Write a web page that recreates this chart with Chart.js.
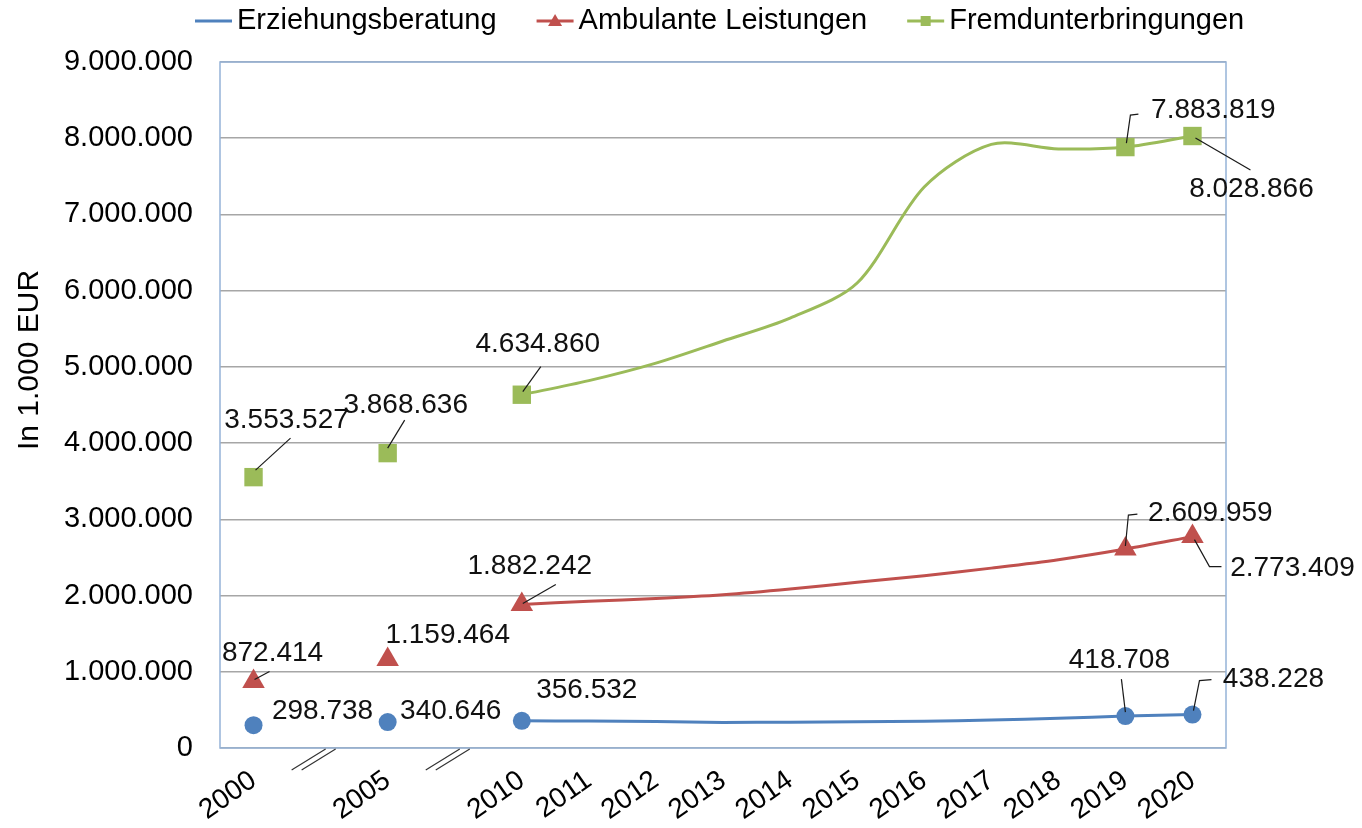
<!DOCTYPE html>
<html>
<head>
<meta charset="utf-8">
<script src="https://cdn.jsdelivr.net/npm/chart.js@4.4.1/dist/chart.umd.min.js"></script>
<style>
    html, body { margin: 0; padding: 0; background: #fff; }
    #wrap { width: 1362px; height: 828px; }
</style>
</head>
<body>
<div id="wrap"><canvas id="chart"></canvas></div>
<script>
// Categories: the empty slots stand for the axis breaks between 2000/2005 and 2005/2010.
const YEARS = ['2000', '', '2005', '', '2010', '2011', '2012', '2013', '2014', '2015', '2016', '2017', '2018', '2019', '2020'];

const ERZIEHUNG = [298738, null, 340646, null, 356532, 354000, 349000, 336000, 339000, 344000, 350000, 366000, 390000, 418708, 438228];
const AMBULANT = [872414, null, 1159464, null, 1882242, 1925000, 1960000, 2010000, 2085000, 2175000, 2260000, 2360000, 2470000, 2609959, 2773409];
const FREMD = [3553527, null, 3868636, null, 4634860, 4820000, 5050000, 5340000, 5640000, 6100000, 7360000, 7920000, 7860000, 7883819, 8028866];

const Y_MIN = 0;
const Y_MAX = 9000000;
const Y_STEP = 1000000;
const Y_TITLE = 'In 1.000 EUR';

// Indices that carry a marker and a value label.
const MARKED = [0, 2, 4, 13, 14];
const BREAKS = [1, 3];

const BLUE = '#4F81BD';
const RED = '#C0504D';
const GREEN = '#9BBB59';
const FRAME = '#95B3D7';
const GRID = '#A6A6A6';
const FONT = 'Liberation Sans, Arial, sans-serif';

const fmt = (v) => String(v).replace(/\B(?=(\d{3})+(?!\d))/g, '.');

// Label placement per dataset: offset of the text centre from the point, optional leader polyline.
const LABEL_LAYOUT = [
    {
        0: { at: [69, -14] },
        2: { at: [63, -11] },
        4: { at: [65, -31] },
        13: { at: [-6, -56], leader: [[0, -4], [-4, -37]] },
        14: { at: [81, -35], leader: [[1, -4], [7, -34], [19, -35]] },
    },
    {
        0: { at: [19, -28], leader: [[1, -2], [16, -10]] },
        2: { at: [60, -24] },
        4: { at: [8, -38], leader: [[1, -1], [34, -20]] },
        13: { at: [85, -36], leader: [[0, -3], [3, -34], [12, -35]] },
        14: { at: [100, 32], leader: [[2, 3], [17, 30], [29, 30]] },
    },
    {
        0: { at: [33, -57], leader: [[2, -7], [37, -39]] },
        2: { at: [18, -48], leader: [[0, -5], [17, -33]] },
        4: { at: [16, -50], leader: [[1, -3], [19, -28]] },
        13: { at: [88, -37], leader: [[1, -4], [5, -32], [13, -33]] },
        14: { at: [59, 53], leader: [[3, 2], [58, 34]] },
    },
];

function series(label, data, color, style, radius) {
    return {
        label,
        data,
        borderColor: color,
        backgroundColor: color,
        borderWidth: 3,
        tension: 0.3,
        pointStyle: style,
        pointRadius: YEARS.map((_, i) => (MARKED.includes(i) ? radius : 0)),
        pointBorderWidth: 0,
        pointHoverRadius: 0,
    };
}

function legendMarker(ctx, style, color, x, y) {
    ctx.fillStyle = color;
    if (style === 'triangle') {
        ctx.beginPath();
        ctx.moveTo(x, y - 7);
        ctx.lineTo(x + 7, y + 5);
        ctx.lineTo(x - 7, y + 5);
        ctx.closePath();
        ctx.fill();
    } else if (style === 'rect') {
        ctx.fillRect(x - 5, y - 5, 10, 10);
    }
}

const decorations = {
    id: 'decorations',
    beforeDatasetsDraw(chart) {
        const { ctx, chartArea: a } = chart;
        ctx.save();
        ctx.strokeStyle = FRAME;
        ctx.lineWidth = 1.5;
        ctx.strokeRect(a.left, a.top, a.right - a.left, a.bottom - a.top);
        ctx.restore();
    },
    afterDatasetsDraw(chart) {
        const { ctx, chartArea: a } = chart;
        const xs = chart.scales.x;
        ctx.save();

        // Axis break marks
        ctx.strokeStyle = '#333';
        ctx.lineWidth = 1.2;
        BREAKS.forEach((idx) => {
            const x = xs.getPixelForValue(idx);
            [-5, 5].forEach((o) => {
                ctx.beginPath();
                ctx.moveTo(x + o - 24, a.bottom + 22);
                ctx.lineTo(x + o + 10, a.bottom + 1);
                ctx.stroke();
            });
        });

        // Value labels with leader lines
        ctx.font = '28px ' + FONT;
        ctx.textAlign = 'center';
        ctx.textBaseline = 'middle';
        chart.data.datasets.forEach((ds, di) => {
            const meta = chart.getDatasetMeta(di);
            Object.entries(LABEL_LAYOUT[di]).forEach(([idx, cfg]) => {
                const pt = meta.data[idx];
                if (!pt) return;
                if (cfg.leader) {
                    ctx.strokeStyle = '#1a1a1a';
                    ctx.lineWidth = 1.2;
                    ctx.beginPath();
                    cfg.leader.forEach(([dx, dy], k) => {
                        if (k === 0) ctx.moveTo(pt.x + dx, pt.y + dy);
                        else ctx.lineTo(pt.x + dx, pt.y + dy);
                    });
                    ctx.stroke();
                }
                ctx.fillStyle = '#111';
                ctx.fillText(fmt(ds.data[idx]), pt.x + cfg.at[0], pt.y + cfg.at[1]);
            });
        });

        // Y axis title, placed a bit above the middle like the original
        ctx.save();
        ctx.translate(30, 360);
        ctx.rotate(-Math.PI / 2);
        ctx.font = '30px ' + FONT;
        ctx.fillStyle = '#000';
        ctx.fillText(Y_TITLE, 0, 0);
        ctx.restore();

        // Legend (Excel style: line with marker in the middle)
        ctx.font = '29px ' + FONT;
        ctx.textAlign = 'left';
        let lx = 195;
        const ly = 21;
        chart.data.datasets.forEach((ds) => {
            ctx.strokeStyle = ds.borderColor;
            ctx.lineWidth = 3;
            ctx.beginPath();
            ctx.moveTo(lx, ly);
            ctx.lineTo(lx + 37, ly);
            ctx.stroke();
            legendMarker(ctx, ds.pointStyle, ds.borderColor, lx + 18.5, ly);
            ctx.fillStyle = '#000';
            ctx.fillText(ds.label, lx + 42, ly);
            lx += 42 + ctx.measureText(ds.label).width + 40;
        });
        ctx.restore();
    },
};

new Chart(document.getElementById('chart'), {
    type: 'line',
    data: {
        labels: YEARS,
        datasets: [
            series('Erziehungsberatung', ERZIEHUNG, BLUE, 'circle', 9),
            series('Ambulante Leistungen', AMBULANT, RED, 'triangle', 13),
            series('Fremdunterbringungen', FREMD, GREEN, 'rect', 13),
        ],
    },
    options: {
        responsive: true,
        maintainAspectRatio: false,
        animation: false,
        events: [],
        layout: { padding: { left: 0, right: 136, top: 62, bottom: 0 } },
        plugins: {
            tooltip: { enabled: false },
            legend: { display: false },
        },
        scales: {
            x: {
                offset: true,
                grid: { display: false, drawTicks: false },
                border: { display: false },
                ticks: {
                    autoSkip: false,
                    minRotation: 35,
                    maxRotation: 35,
                    padding: 16,
                    color: '#000',
                    font: { family: FONT, size: 28 },
                },
                afterFit: (scale) => { scale.height = 80; },
            },
            y: {
                min: Y_MIN,
                max: Y_MAX,
                grid: { color: GRID, lineWidth: 1.5, drawTicks: false },
                border: { display: false },
                ticks: {
                    stepSize: Y_STEP,
                    padding: 27,
                    color: '#000',
                    font: { family: FONT, size: 29 },
                    callback: (v) => fmt(v),
                },
                afterFit: (scale) => { scale.width = 220; },
            },
        },
    },
    plugins: [decorations],
});
</script>
</body>
</html>
